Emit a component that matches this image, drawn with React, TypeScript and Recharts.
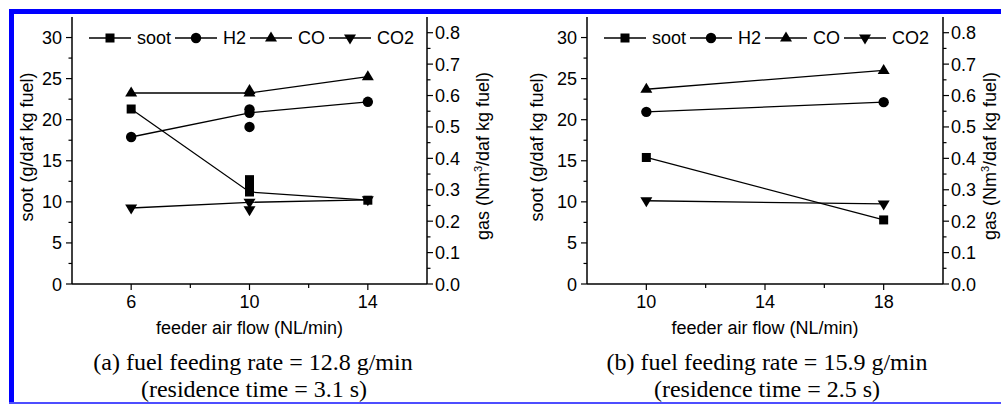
import React from 'react';
import { ComposedChart, Line, XAxis, YAxis } from 'recharts';

// panel (a): fuel feeding rate 12.8 g/min
const airFlowA = [6, 10, 14];
const sootA = [21.3, 11.2, 10.2];
const h2A = [0.468, 0.545, 0.58];
const coA = [0.608, 0.608, 0.66];
const co2A = [0.242, 0.26, 0.268];
// repeated runs at 10 NL/min (not on the line)
const repeatFlowA = 10;
const sootRepeatA = [12.7, 12.1];
const h2RepeatA = [0.556, 0.5];
const coRepeatA = [0.616];
const co2RepeatA = [0.236];

// panel (b): fuel feeding rate 15.9 g/min
const airFlowB = [10, 18];
const sootB = [15.4, 7.8];
const h2B = [0.548, 0.579];
const coB = [0.62, 0.68];
const co2B = [0.265, 0.255];

const xTicksA = [6, 8, 10, 12, 14];
const xLabelsA = [6, 10, 14];
const xTicksB = [10, 12, 14, 16, 18];
const xLabelsB = [10, 14, 18];
const sootTicks = [0, 2.5, 5, 7.5, 10, 12.5, 15, 17.5, 20, 22.5, 25, 27.5, 30];
const sootLabels = [0, 5, 10, 15, 20, 25, 30];
const gasTicks = [0, 0.05, 0.1, 0.15, 0.2, 0.25, 0.3, 0.35, 0.4, 0.45, 0.5, 0.55, 0.6, 0.65, 0.7, 0.75, 0.8];
const gasLabels = [0, 0.1, 0.2, 0.3, 0.4, 0.5, 0.6, 0.7, 0.8];

const SANS = '"Liberation Sans", Arial, sans-serif';
const SERIF = '"Liberation Serif", "Times New Roman", serif';

type Shape = 'square' | 'circle' | 'up' | 'down';

const has = (arr: number[], v: number) => arr.some((a) => Math.abs(a - v) < 1e-6);

function Marker({ cx, cy, shape }: { cx: number; cy: number; shape: Shape }) {
  if (cx == null || cy == null) return null;
  if (shape === 'square') return <rect x={cx - 4.5} y={cy - 4.5} width={9} height={9} fill="#000" />;
  if (shape === 'circle') return <circle cx={cx} cy={cy} r={5.2} fill="#000" />;
  if (shape === 'up')
    return <path d={`M${cx},${cy - 6.5} L${cx + 6},${cy + 3.5} L${cx - 6},${cy + 3.5} Z`} fill="#000" />;
  return <path d={`M${cx},${cy + 6.5} L${cx + 6},${cy - 3.5} L${cx - 6},${cy - 3.5} Z`} fill="#000" />;
}

const dotFor = (shape: Shape) => (p: any) => <Marker key={`${shape}-${p.index}`} cx={p.cx} cy={p.cy} shape={shape} />;

const pts = (xs: number[], ys: number[]) => xs.map((x, i) => ({ x, y: ys[i] }));
const repeatPts = (x: number, ys: number[]) => ys.map((y) => ({ x, y }));

const makeBottomTick = (labels: number[]) => (props: any) => {
  const { x, y, payload } = props;
  const major = has(labels, payload.value);
  return (
    <g>
      <line x1={x} x2={x} y1={y} y2={y + (major ? 6 : 4)} stroke="#000" strokeWidth={1.2} />
      {major && (
        <text x={x} y={y + 23.5} textAnchor="middle" fontSize={18} fontFamily={SANS} fill="#000">
          {payload.value}
        </text>
      )}
    </g>
  );
};

const LeftTick = (props: any) => {
  const { x, y, payload } = props;
  const major = has(sootLabels, payload.value);
  return (
    <g>
      <line x1={x - (major ? 6 : 3.5)} x2={x} y1={y} y2={y} stroke="#000" strokeWidth={1.2} />
      {major && (
        <text x={x - 10} y={y + 6.5} textAnchor="end" fontSize={18} fontFamily={SANS} fill="#000">
          {payload.value}
        </text>
      )}
    </g>
  );
};

const RightTick = (props: any) => {
  const { x, y, payload } = props;
  const major = has(gasLabels, payload.value);
  return (
    <g>
      <line x1={x} x2={x + (major ? 6 : 3.5)} y1={y} y2={y} stroke="#000" strokeWidth={1.2} />
      {major && (
        <text x={x + 8} y={y + 6.5} textAnchor="start" fontSize={18} fontFamily={SANS} fill="#000">
          {Number(payload.value).toFixed(1)}
        </text>
      )}
    </g>
  );
};

const axisLine = { stroke: '#000', strokeWidth: 1.5 };

interface PanelProps {
  width: number;
  margin: { top: number; right: number; bottom: number; left: number };
  domain: [number, number];
  xTicks: number[];
  xLabels: number[];
  soot: { x: number; y: number }[];
  h2: { x: number; y: number }[];
  co: { x: number; y: number }[];
  co2: { x: number; y: number }[];
  extras?: { shape: Shape; data: { x: number; y: number }[]; axis: string }[];
}

function Panel({ width, margin, domain, xTicks, xLabels, soot, h2, co, co2, extras = [] }: PanelProps) {
  return (
    <ComposedChart width={width} height={320} margin={margin}>
      <XAxis
        xAxisId="bottom"
        dataKey="x"
        type="number"
        domain={domain}
        ticks={xTicks}
        interval={0}
        tickSize={0}
        tickMargin={0}
        tickLine={false}
        tick={makeBottomTick(xLabels)}
        axisLine={axisLine}
        height={16}
        allowDataOverflow
      />
      <XAxis
        xAxisId="top"
        orientation="top"
        dataKey="x"
        type="number"
        domain={domain}
        tick={false}
        tickLine={false}
        axisLine={axisLine}
        height={0}
        allowDataOverflow
      />
      <YAxis
        yAxisId="soot"
        orientation="left"
        type="number"
        domain={[0, 32.5]}
        ticks={sootTicks}
        interval={0}
        tickSize={0}
        tickMargin={0}
        tickLine={false}
        tick={LeftTick}
        axisLine={axisLine}
        width={50}
        allowDataOverflow
      />
      <YAxis
        yAxisId="gas"
        orientation="right"
        type="number"
        domain={[0, 0.85]}
        ticks={gasTicks}
        interval={0}
        tickSize={0}
        tickMargin={0}
        tickLine={false}
        tick={RightTick}
        axisLine={axisLine}
        width={50}
        allowDataOverflow
      />
      <Line xAxisId="bottom" yAxisId="soot" data={soot} dataKey="y" stroke="#000" strokeWidth={1.3} dot={dotFor('square')} activeDot={false} isAnimationActive={false} />
      <Line xAxisId="bottom" yAxisId="gas" data={h2} dataKey="y" stroke="#000" strokeWidth={1.3} dot={dotFor('circle')} activeDot={false} isAnimationActive={false} />
      <Line xAxisId="bottom" yAxisId="gas" data={co} dataKey="y" stroke="#000" strokeWidth={1.3} dot={dotFor('up')} activeDot={false} isAnimationActive={false} />
      <Line xAxisId="bottom" yAxisId="gas" data={co2} dataKey="y" stroke="#000" strokeWidth={1.3} dot={dotFor('down')} activeDot={false} isAnimationActive={false} />
      {extras.map((e, i) => (
        <Line
          key={i}
          xAxisId="bottom"
          yAxisId={e.axis}
          data={e.data}
          dataKey="y"
          stroke="none"
          dot={dotFor(e.shape)}
          activeDot={false}
          legendType="none"
          isAnimationActive={false}
        />
      ))}
    </ComposedChart>
  );
}

const legendItems: { name: string; shape: Shape }[] = [
  { name: 'soot', shape: 'square' },
  { name: 'H2', shape: 'circle' },
  { name: 'CO', shape: 'up' },
  { name: 'CO2', shape: 'down' },
];

function LegendRow({ left, top }: { left: number; top: number }) {
  return (
    <div style={{ position: 'absolute', left, top: top - 11, display: 'flex', alignItems: 'center', height: 22, fontFamily: SANS, fontSize: 18, whiteSpace: 'nowrap' }}>
      {legendItems.map((it, i) => (
        <React.Fragment key={it.name}>
          <svg width={42} height={16} style={{ marginLeft: i === 0 ? 0 : 4 }}>
            <line x1={0} x2={42} y1={8} y2={8} stroke="#000" strokeWidth={1.3} />
            <Marker cx={21} cy={8} shape={it.shape} />
          </svg>
          <span style={{ marginLeft: 6 }}>{it.name}</span>
        </React.Fragment>
      ))}
    </div>
  );
}

function VTitle({ cx, cy, children }: { cx: number; cy: number; children: React.ReactNode }) {
  return (
    <div style={{ position: 'absolute', left: cx, top: cy, transform: 'translate(-50%, -50%) rotate(-90deg)', fontFamily: SANS, fontSize: 18, whiteSpace: 'nowrap', lineHeight: '20px' }}>
      {children}
    </div>
  );
}

function CenterText({ cx, cy, font, size, children }: { cx: number; cy: number; font: string; size: number; children: React.ReactNode }) {
  return (
    <div style={{ position: 'absolute', left: cx, top: cy, transform: 'translate(-50%, -50%)', fontFamily: font, fontSize: size, whiteSpace: 'nowrap', lineHeight: `${size + 4}px` }}>
      {children}
    </div>
  );
}

const gasTitle = (
  <>
    gas (Nm<sup style={{ fontSize: 11, lineHeight: 0 }}>3</sup>/daf kg fuel)
  </>
);

export default function App() {
  return (
    <div style={{ position: 'absolute', left: 0, top: 0, width: 1001, height: 405, background: '#fff', overflow: 'hidden' }}>
      <div style={{ position: 'absolute', left: 9, top: 9, width: 992, height: 5, background: '#0000ff' }} />
      <div style={{ position: 'absolute', left: 9, top: 9, width: 5, height: 395, background: '#0000ff' }} />
      <div style={{ position: 'absolute', left: 9, top: 402, width: 992, height: 1.5, background: '#4d4dff' }} />

      <div style={{ position: 'absolute', left: 0, top: 0 }}>
        <Panel
          width={500}
          margin={{ top: 17, right: 23, bottom: 20, left: 22 }}
          domain={[4, 16]}
          xTicks={xTicksA}
          xLabels={xLabelsA}
          soot={pts(airFlowA, sootA)}
          h2={pts(airFlowA, h2A)}
          co={pts(airFlowA, coA)}
          co2={pts(airFlowA, co2A)}
          extras={[
            { shape: 'square', axis: 'soot', data: repeatPts(repeatFlowA, sootRepeatA) },
            { shape: 'circle', axis: 'gas', data: repeatPts(repeatFlowA, h2RepeatA) },
            { shape: 'up', axis: 'gas', data: repeatPts(repeatFlowA, coRepeatA) },
            { shape: 'down', axis: 'gas', data: repeatPts(repeatFlowA, co2RepeatA) },
          ]}
        />
      </div>
      <div style={{ position: 'absolute', left: 500, top: 0 }}>
        <Panel
          width={501}
          margin={{ top: 17, right: 8, bottom: 20, left: 37 }}
          domain={[8, 20]}
          xTicks={xTicksB}
          xLabels={xLabelsB}
          soot={pts(airFlowB, sootB)}
          h2={pts(airFlowB, h2B)}
          co={pts(airFlowB, coB)}
          co2={pts(airFlowB, co2B)}
        />
      </div>

      <LegendRow left={89} top={38} />
      <LegendRow left={604} top={38} />

      <VTitle cx={27} cy={147}>soot (g/daf kg fuel)</VTitle>
      <VTitle cx={483} cy={156}>{gasTitle}</VTitle>
      <VTitle cx={537} cy={147}>soot (g/daf kg fuel)</VTitle>
      <VTitle cx={990} cy={156}>{gasTitle}</VTitle>

      <CenterText cx={249.5} cy={328} font={SANS} size={18}>feeder air flow (NL/min)</CenterText>
      <CenterText cx={765} cy={328} font={SANS} size={18}>feeder air flow (NL/min)</CenterText>

      <CenterText cx={253} cy={362} font={SERIF} size={24}>(a) fuel feeding rate = 12.8 g/min</CenterText>
      <CenterText cx={254} cy={389} font={SERIF} size={24}>(residence time = 3.1 s)</CenterText>
      <CenterText cx={767} cy={362} font={SERIF} size={24}>(b) fuel feeding rate = 15.9 g/min</CenterText>
      <CenterText cx={767} cy={389} font={SERIF} size={24}>(residence time = 2.5 s)</CenterText>
    </div>
  );
}
